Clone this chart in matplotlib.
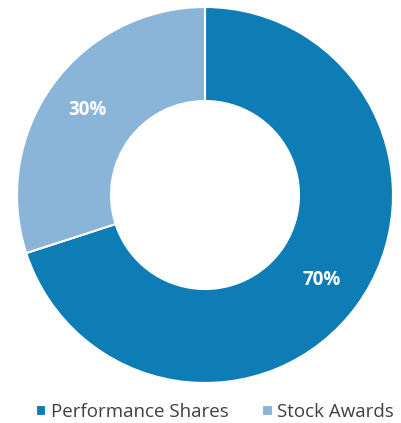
import matplotlib.pyplot as plt

labels = ['Performance Shares', 'Stock Awards']
values = [70, 30]
colors = ['#0F7DB5', '#8AB5D8']

plt.rcParams['font.family'] = ['Open Sans', 'DejaVu Sans']

fig = plt.figure(figsize=(4.01, 4.23), dpi=100)
ax = fig.add_axes([17 / 401, 40 / 423, 376 / 401, 376 / 423])

wedges, texts, autotexts = ax.pie(
    values, colors=colors, startangle=90, counterclock=False,
    autopct='%d%%', pctdistance=0.77, radius=1,
    wedgeprops=dict(width=0.5, edgecolor='white', linewidth=1.5),
    textprops=dict(color='white', fontsize=13.5, fontweight='bold'))
ax.set_xlim(-1, 1)
ax.set_ylim(-1, 1)
ax.set_aspect('equal')
ax.axis('off')

fig.legend(wedges, labels, loc='center', bbox_to_anchor=(215 / 401, 1 - 412 / 423),
           ncol=2, frameon=False, fontsize=13.5, handlelength=0.55, handleheight=0.55,
           handletextpad=0.25, columnspacing=1.8, labelcolor='#404040',
           borderpad=0, borderaxespad=0)

fig.savefig('out.png', dpi=100)
